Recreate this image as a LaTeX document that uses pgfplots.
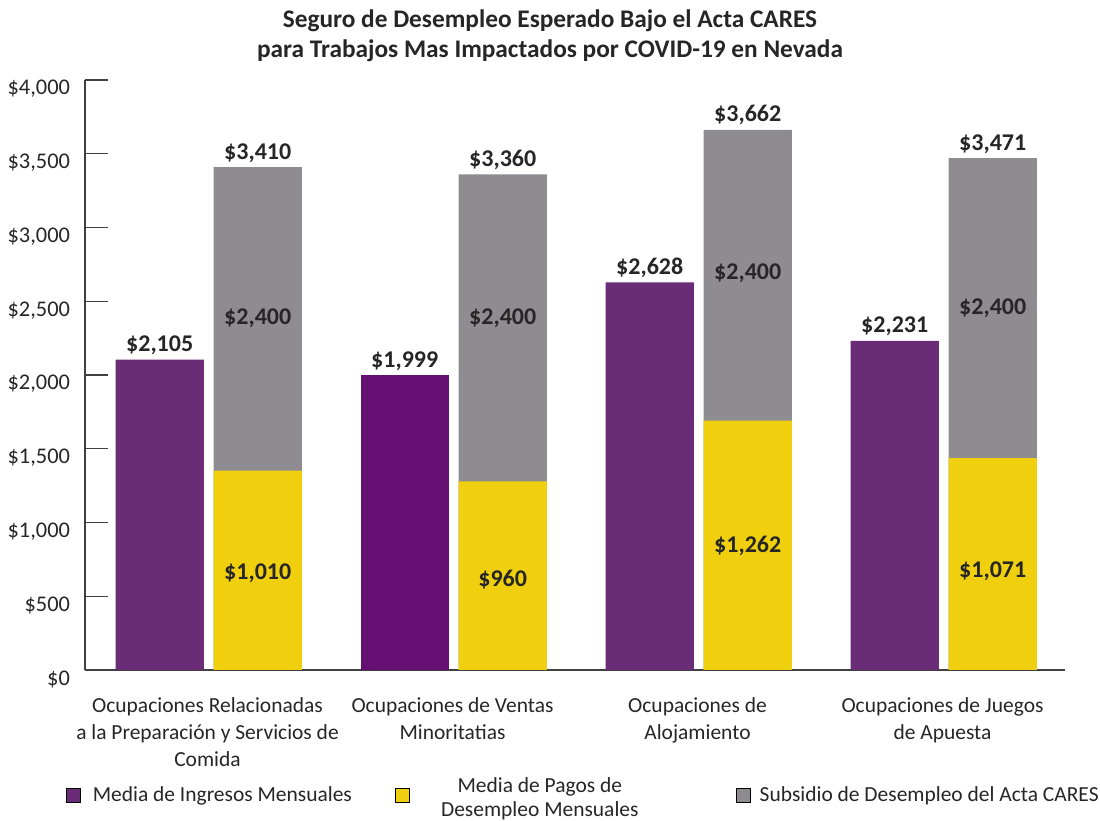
\documentclass[border=0pt]{standalone}
\usepackage{pgfplots}
\pgfplotsset{compat=1.18}
\usepackage{fontspec}
\setmainfont{Carlito}
\definecolor{purp}{HTML}{6A2B77}
\definecolor{purpb}{HTML}{650F72}
\definecolor{yel}{HTML}{F0D00E}
\definecolor{gry}{HTML}{8E8B91}
\definecolor{txt}{HTML}{262626}
\definecolor{axl}{HTML}{404040}
\begin{document}
\begin{tikzpicture}
\path[use as bounding box] (0,0) rectangle (825pt,615.75pt);
\begin{axis}[
  at={(63.75pt,113.25pt)}, anchor=south west,
  scale only axis, width=735pt, height=442.5pt,
  xmin=-0.5, xmax=3.5, ymin=0, ymax=4000,
  axis x line*=bottom, axis y line*=left,
  axis line style={axl, line width=0.9pt},
  xtick={0,1,2,3}, major x tick style={draw=none},
  xticklabels={
    {Ocupaciones Relacionadas\\a la Preparación y Servicios de\\Comida},
    {Ocupaciones de Ventas\\Minoritatias},
    {Ocupaciones de\\Alojamiento},
    {Ocupaciones de Juegos\\de Apuesta}},
  xticklabel style={align=center, font=\fontsize{16.1}{20.5}\selectfont, text=txt, yshift=-17pt},
  ytick={0,500,...,4000},
  yticklabel={\$\pgfmathprintnumber{\tick}},
  /pgf/number format/.cd, 1000 sep={,}, assume math mode=true, /pgfplots/.cd,
  yticklabel style={font=\fontsize{16.8}{19}\selectfont, text=txt, yshift=-6.75pt, xshift=-7.75pt},
  major y tick style={axl, line width=0.9pt}, tickwidth=17pt, tick align=inside,
  title={Seguro de Desempleo Esperado Bajo el Acta CARES\\para Trabajos Mas Impactados por COVID-19 en Nevada},
  title style={align=center, font=\fontsize{19}{22.5}\selectfont\bfseries, text=txt,
    at={(axis description cs:0.4745,1)}, anchor=center, yshift=27.5pt},
  legend columns=3,
  legend style={draw=none, fill=none, inner sep=0pt,
    at={(axis description cs:-0.0194,-0.2119)}, anchor=west,
    font=\fontsize{16.1}{19}\selectfont, text=txt,
    nodes={inner sep=0pt, anchor=center},
    /tikz/column 1/.style={column sep=9pt},
    /tikz/column 2/.style={column sep=32pt},
    /tikz/column 3/.style={column sep=24pt},
    /tikz/column 4/.style={column sep=73pt},
    /tikz/column 5/.style={column sep=7pt}},
  legend image code/.code={\fill[#1] (0pt,-5.25pt) rectangle (10.5pt,5.25pt);},
  nodes near coords style={font=\fontsize{18}{20}\selectfont\bfseries, text=txt},
]
% monthly income
\addplot[ybar, bar width=0.36, bar shift=-0.195, fill=purp, draw=none, forget plot]
  coordinates {(0,2105) (2,2628) (3,2231)};
\addplot[ybar, bar width=0.36, bar shift=-0.195, fill=purpb, draw=none, forget plot]
  coordinates {(1,1999)};
% total (CARES + UI)
\addplot[ybar, bar width=0.36, bar shift=0.205, fill=gry, draw=none, forget plot]
  coordinates {(0,3410) (1,3360) (2,3662) (3,3471)};
% UI payments (drawn height as in the source chart)
\addplot[ybar, bar width=0.36, bar shift=0.205, fill=yel, draw=none, forget plot]
  coordinates {(0,1351) (1,1279) (2,1690) (3,1437)};
% labels on bar tops
\addplot[draw=none, mark=none, forget plot, nodes near coords, point meta=explicit symbolic,
  every node near coord/.append style={anchor=south}]
  coordinates {(-0.195,2105)[\$2,105] (0.805,1999)[\$1,999] (1.805,2628)[\$2,628] (2.805,2231)[\$2,231]
               (0.205,3410)[\$3,410] (1.205,3360)[\$3,360] (2.205,3662)[\$3,662] (3.205,3471)[\$3,471]};
% inner labels
\addplot[draw=none, mark=none, forget plot, nodes near coords, nodes near coords align=center,
  point meta=explicit symbolic]
  coordinates {(0.205,2386)[\$2,400] (1.205,2386)[\$2,400] (2.205,2690)[\$2,400] (3.205,2450)[\$2,400]
               (0.205,657)[\$1,010] (1.205,610)[\$960] (2.205,840)[\$1,262] (3.205,670)[\$1,071]};
\addlegendimage{fill=purp}
\addlegendentry{Media de Ingresos Mensuales}
\addlegendimage{fill=yel}
\addlegendentry{\raisebox{3pt}[\height][\depth]{\renewcommand{\arraystretch}{0.97}\begin{tabular}{@{}c@{}}Media de Pagos de\\Desempleo Mensuales\end{tabular}}}
\addlegendimage{fill=gry}
\addlegendentry{Subsidio de Desempleo del Acta CARES}
\end{axis}
\end{tikzpicture}
\end{document}
